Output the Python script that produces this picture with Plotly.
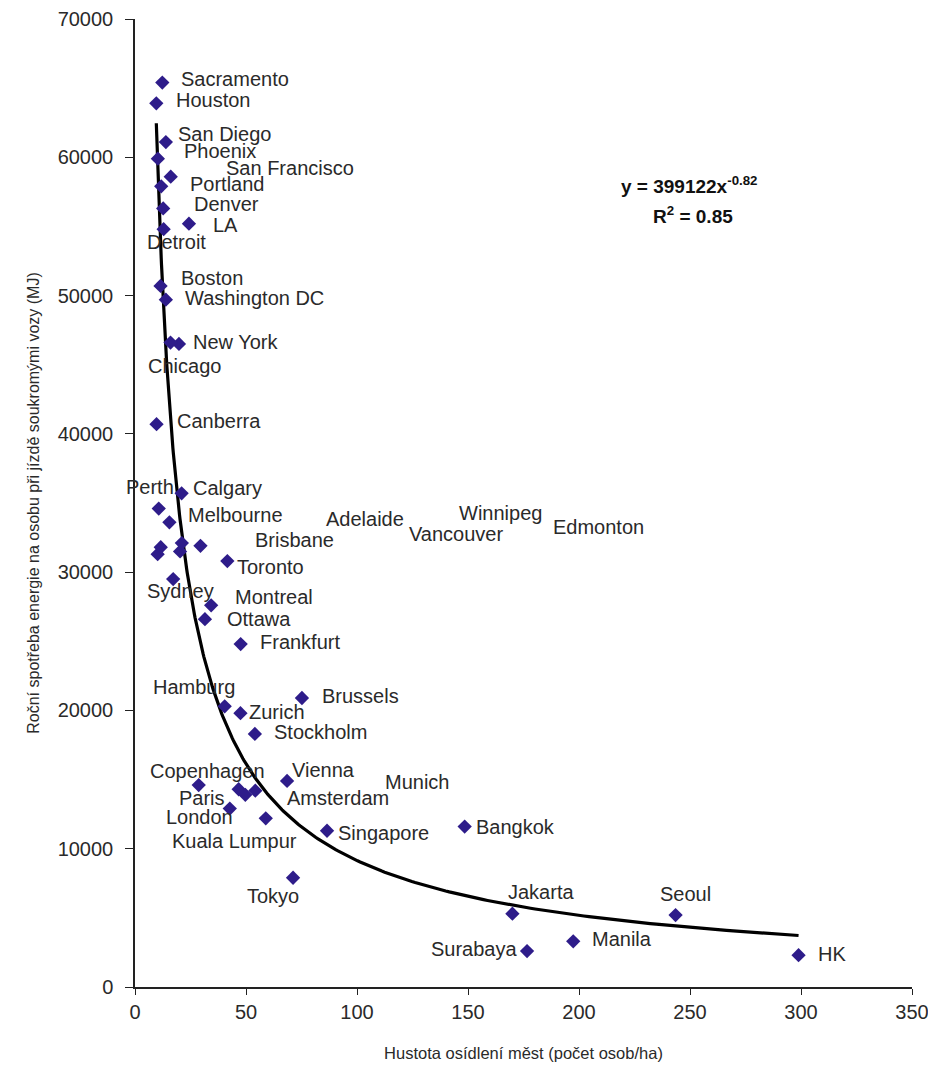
import numpy as np
import plotly.graph_objects as go

# ---- data ----
cities = ["Sacramento", "Houston", "San Diego", "Phoenix", "San Francisco", "Portland",
          "Denver", "LA", "Detroit", "Boston", "Washington DC", "New York", "Chicago",
          "Canberra", "Perth", "Calgary", "Melbourne", "Brisbane", "Adelaide", "Vancouver",
          "Winnipeg", "Edmonton", "Toronto", "Sydney", "Montreal", "Ottawa", "Frankfurt",
          "Brussels", "Hamburg", "Zurich", "Stockholm", "Vienna", "Copenhagen", "Paris",
          "Amsterdam", "Munich", "London", "Kuala Lumpur", "Singapore", "Tokyo", "Bangkok",
          "Jakarta", "Seoul", "Manila", "Surabaya", "HK"]
density = [12.3, 9.6, 13.9, 10.3, 16.1, 11.8,
           12.7, 24.3, 12.9, 11.5, 13.9, 19.8, 16.0,
           9.7, 10.7, 21.0, 15.5, 10.2, 11.6, 20.3,
           21.1, 29.5, 41.6, 17.2, 34.3, 31.5, 47.6,
           75.2, 40.4, 47.5, 54.0, 68.5, 28.7, 46.7,
           49.7, 54.2, 42.7, 58.9, 86.5, 71.2, 148.5,
           170.0, 243.5, 197.4, 176.6, 298.9]
energy = [65400, 63900, 61100, 59900, 58600, 57900,
          56300, 55200, 54800, 50700, 49700, 46500, 46600,
          40700, 34600, 35700, 33600, 31300, 31800, 31500,
          32100, 31900, 30800, 29500, 27600, 26600, 24800,
          20900, 20300, 19800, 18300, 14900, 14600, 14300,
          13900, 14200, 12900, 12200, 11300, 7900, 11600,
          5300, 5200, 3300, 2600, 2300]

# trendline shown on the chart: y = 399122 x^-0.82, R^2 = 0.85
FIT_A = 399122
FIT_B = -0.82
x_ticks = [0, 50, 100, 150, 200, 250, 300, 350]
y_ticks = [0, 10000, 20000, 30000, 40000, 50000, 60000, 70000]

# ---- label offsets in screen pixels (dx, dy; dy positive = down) ----
label_offsets = {
    "Sacramento": (17, -4), "Houston": (18, -3), "San Diego": (10, -8), "Phoenix": (24, -8),
    "San Francisco": (53, -9), "Portland": (27, -2), "Denver": (29, -4), "LA": (22, 1),
    "Detroit": (-19, 13), "Boston": (18, -8), "Washington DC": (17, -2), "New York": (12, -2),
    "Chicago": (-25, 23), "Canberra": (18, -3), "Perth": (-35, -22), "Calgary": (9, -5),
    "Melbourne": (17, -7), "Brisbane": (95, -14), "Adelaide": (163, -28),
    "Vancouver": (227, -17), "Winnipeg": (275, -30), "Edmonton": (351, -19),
    "Toronto": (8, 6), "Sydney": (-28, 12), "Montreal": (22, -8), "Ottawa": (20, 0),
    "Frankfurt": (17, -2), "Brussels": (18, -2), "Hamburg": (-74, -19), "Zurich": (7, -1),
    "Stockholm": (17, -2), "Vienna": (3, -11), "Copenhagen": (-51, -14), "Paris": (-62, 9),
    "Amsterdam": (40, 3), "Munich": (128, -9), "London": (-66, 8),
    "Kuala Lumpur": (-96, 23), "Singapore": (9, 2), "Tokyo": (-48, 18), "Bangkok": (9, 0),
    "Jakarta": (-6, -22), "Seoul": (-18, -21), "Manila": (17, -2), "Surabaya": (-8, -2),
    "HK": (17, -1),
}
right_anchored = {"Surabaya"}

FONT = "Liberation Sans, Arial, Helvetica, sans-serif"
TXT = "#2a2a2a"
MARK = "#2E1C8A"

fig = go.Figure()

xs = np.geomspace(min(density), max(density), 300)
fig.add_trace(go.Scatter(x=xs, y=FIT_A * xs ** FIT_B, mode="lines",
                         line=dict(color="black", width=3.2), hoverinfo="skip",
                         showlegend=False))

fig.add_trace(go.Scatter(x=density, y=energy, mode="markers", text=cities,
                         marker=dict(symbol="diamond", size=11, color=MARK,
                                     line=dict(width=0)),
                         showlegend=False))

annotations = []
for name, xv, yv in zip(cities, density, energy):
    dx, dy = label_offsets[name]
    annotations.append(dict(
        x=xv, y=yv, xref="x", yref="y", text=name, showarrow=False,
        xanchor="right" if name in right_anchored else "left", yanchor="middle",
        xshift=dx, yshift=-dy, font=dict(family=FONT, size=20, color=TXT)))

annotations.append(dict(x=0.7136, y=0.8285, xref="paper", yref="paper",
                        text=f"<b>y = {FIT_A}x<sup>{FIT_B}</sup></b>", showarrow=False,
                        xanchor="center", yanchor="middle",
                        font=dict(family=FONT, size=19, color="#111")))
annotations.append(dict(x=0.7187, y=0.7975, xref="paper", yref="paper",
                        text="<b>R<sup>2</sup> = 0.85</b>", showarrow=False,
                        xanchor="center", yanchor="middle",
                        font=dict(family=FONT, size=19, color="#111")))

fig.update_layout(
    width=928, height=1059,
    margin=dict(l=127, r=24, t=11, b=80),
    paper_bgcolor="white", plot_bgcolor="white",
    font=dict(family=FONT, color=TXT),
    annotations=annotations,
    xaxis=dict(range=[0, 350], tickvals=x_ticks, ticktext=[str(v) for v in x_ticks],
               automargin=False,
               showgrid=False, zeroline=False, showline=True, linecolor="#222",
               linewidth=1.5, ticks="outside", ticklen=6, tickcolor="#222",
               ticklabelstandoff=0,
               tickfont=dict(size=20, color=TXT),
               title=dict(text="Hustota osídlení měst (počet osob/ha)",
                          font=dict(size=16.5, color=TXT), standoff=26)),
    yaxis=dict(range=[0, 70000], tickvals=y_ticks, ticktext=[str(v) for v in y_ticks],
               automargin=False,
               showgrid=False, zeroline=False, showline=True, linecolor="#222",
               linewidth=1.5, ticks="outside", ticklen=8, tickcolor="#222",
               ticklabelstandoff=8,
               tickfont=dict(size=20, color=TXT),
               title=dict(text="Roční spotřeba energie na osobu při jízdě soukromými vozy (MJ)",
                          font=dict(size=16, color=TXT), standoff=14)),
)

fig.write_html("out.html")
